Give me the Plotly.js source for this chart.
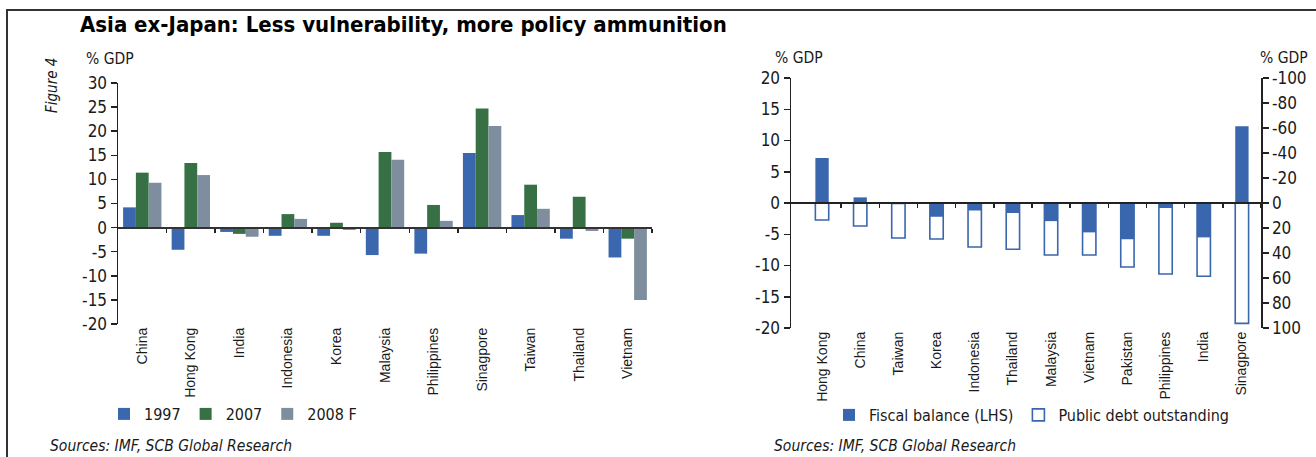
<!DOCTYPE html>
<html>
<head>
<meta charset="utf-8">
<script src="https://cdn.plot.ly/plotly-3.0.1.min.js"></script>
<style>html,body{margin:0;padding:0;background:#fff;}#chart{width:1316px;height:457px;}</style>
</head>
<body>
<div id="chart"></div>
<script>
// ---------- data: left chart (% GDP) ----------
const countriesL = ["China","Hong Kong","India","Indonesia","Korea","Malaysia","Philippines","Sinagpore","Taiwan","Thailand","Vietnam"];
const ca1997 = [4.2, -4.6, -0.9, -1.7, -1.7, -5.7, -5.4, 15.5, 2.6, -2.3, -6.2];
const ca2007 = [11.4, 13.4, -1.3, 2.8, 1.0, 15.7, 4.7, 24.7, 8.9, 6.4, -2.3];
const ca2008F = [9.3, 10.9, -1.9, 1.8, -0.5, 14.1, 1.4, 21.1, 3.9, -0.7, -15.0];
const seriesNamesL = ["1997", "2007", "2008 F"];

// ---------- data: right chart ----------
const countriesR = ["Hong Kong","China","Taiwan","Korea","Indonesia","Thailand","Malaysia","Vietnam","Pakistan","Philippines","India","Sinagpore"];
const fiscalBalance = [7.2, 0.9, -0.2, -2.2, -1.2, -1.6, -2.9, -4.7, -5.8, -0.8, -5.5, 12.3];
const publicDebt = [13.6, 18.4, 28.0, 28.8, 35.2, 37.0, 41.6, 41.6, 51.2, 56.8, 58.6, 96.3];
const seriesNamesR = ["Fiscal balance (LHS)", "Public debt outstanding"];

// tick values
const ticksL = [-20,-15,-10,-5,0,5,10,15,20,25,30];
const ticksR = [-20,-15,-10,-5,0,5,10,15,20];
const ticksR2 = [-100,-80,-60,-40,-20,0,20,40,60,80,100];

// ---------- layout helpers ----------
const W = 1316, H = 457;
const px = v => v / W;
const py = v => 1 - v / H;
const NARROW = '"Liberation Sans Narrow", "Arial Narrow", "DejaVu Sans Condensed", sans-serif';
const SANS = '"Liberation Sans", Arial, sans-serif';
const INK = '#1a1a1a';

const domLx = [px(118), px(652)];
const domLy = [py(324), py(83)];
const domRx = [px(791), px(1261)];
const domRy = [py(328), py(78)];
const rangeL = [-20, 30];
const rangeR = [-20, 20];
const zeroPos = (dom, r) => dom[0] + (0 - r[0]) / (r[1] - r[0]) * (dom[1] - dom[0]);

const colorsL = ['#3B67AE', '#377044', '#7F8E9E'];
const blue = '#3A66AD';

const traces = [];
[ca1997, ca2007, ca2008F].forEach((vals, i) => {
  traces.push({
    type: 'bar', x: countriesL, y: vals, name: seriesNamesL[i],
    marker: {color: colorsL[i], line: {width: 0}},
    xaxis: 'x', yaxis: 'y', legend: 'legend'
  });
});
traces.push({
  type: 'bar', x: countriesR, y: fiscalBalance, name: seriesNamesR[0],
  width: 0.35, marker: {color: blue, line: {width: 0}},
  xaxis: 'x2', yaxis: 'y2', legend: 'legend2'
});
traces.push({
  type: 'bar', x: countriesR, y: publicDebt, name: seriesNamesR[1],
  width: 0.35, marker: {color: 'rgba(255,255,255,0)', line: {color: blue, width: 1.6}},
  xaxis: 'x2', yaxis: 'y3', legend: 'legend2'
});
// invisible helpers so the zero-line axes get drawn
traces.push({type: 'scatter', mode: 'none', x: countriesL.map((_, i) => i), y: ca1997, xaxis: 'x3', yaxis: 'y', showlegend: false, hoverinfo: 'skip'});
traces.push({type: 'scatter', mode: 'none', x: countriesR.map((_, i) => i), y: fiscalBalance, xaxis: 'x4', yaxis: 'y2', showlegend: false, hoverinfo: 'skip'});

const tickFont = {family: NARROW, size: 17, color: INK};
const catFont = {family: SANS, size: 14, color: INK};
const smallFont = {family: NARROW, size: 15.5, color: INK};

const layout = {
  width: W, height: H,
  margin: {l: 0, r: 0, t: 0, b: 0},
  paper_bgcolor: '#fff', plot_bgcolor: 'rgba(0,0,0,0)',
  showlegend: true,
  barmode: 'group', bargap: 0.21, bargroupgap: 0,
  font: {family: NARROW, color: INK},
  title: {
    text: '<b>Asia ex-Japan: Less vulnerability, more policy ammunition</b>',
    font: {family: NARROW, size: 22, color: '#000'},
    x: px(80), xanchor: 'left', xref: 'paper',
    y: py(24), yanchor: 'middle', yref: 'paper'
  },
  xaxis: {
    domain: domLx, anchor: 'y', type: 'category', categoryarray: countriesL,
    range: [-0.5, countriesL.length - 0.5],
    showline: false, ticks: '', tickangle: -90, tickfont: catFont, showgrid: false, zeroline: false
  },
  xaxis3: {
    overlaying: 'x', anchor: 'free', position: zeroPos(domLy, rangeL), type: 'linear',
    range: [-0.5, countriesL.length - 0.5],
    tickvals: countriesL.map((_, i) => i + 0.5),
    showline: true, linecolor: '#333', linewidth: 2,
    ticks: 'outside', ticklen: 4, tickcolor: '#222', tickwidth: 1.5,
    showticklabels: false, showgrid: false, zeroline: false
  },
  yaxis: {
    domain: domLy, anchor: 'x', range: rangeL,
    tickvals: ticksL, ticktext: ticksL.map(String),
    showline: true, linecolor: '#222', linewidth: 1.5,
    ticks: 'outside', ticklen: 6, tickcolor: '#222', tickwidth: 1.5,
    tickfont: tickFont, showgrid: false, zeroline: false
  },
  xaxis2: {
    domain: domRx, anchor: 'y2', type: 'category', categoryarray: countriesR,
    range: [-0.5 - 12 / 38.3, countriesR.length - 0.5],
    showline: false, ticks: '', tickangle: -90, tickfont: catFont, showgrid: false, zeroline: false
  },
  xaxis4: {
    overlaying: 'x2', anchor: 'free', position: zeroPos(domRy, rangeR), type: 'linear',
    range: [-0.5 - 12 / 38.3, countriesR.length - 0.5],
    tickvals: countriesR.map((_, i) => i + 0.5),
    showline: true, linecolor: '#222', linewidth: 2,
    ticks: 'outside', ticklen: 4, tickcolor: '#222', tickwidth: 1.5,
    showticklabels: false, showgrid: false, zeroline: false
  },
  yaxis2: {
    domain: domRy, anchor: 'x2', range: rangeR,
    tickvals: ticksR, ticktext: ticksR.map(String),
    showline: true, linecolor: '#222', linewidth: 1.5,
    ticks: 'outside', ticklen: 6, tickcolor: '#222', tickwidth: 1.5,
    tickfont: tickFont, showgrid: false, zeroline: false
  },
  yaxis3: {
    overlaying: 'y2', side: 'right', anchor: 'x2', range: [100, -100],
    tickvals: ticksR2, ticktext: ticksR2.map(String),
    showline: true, linecolor: '#222', linewidth: 1.5,
    ticks: 'outside', ticklen: 6, tickcolor: '#222', tickwidth: 1.5,
    tickfont: tickFont, showgrid: false, zeroline: false
  },
  legend: {
    orientation: 'h', x: px(104), xanchor: 'left', y: py(414), yanchor: 'middle',
    font: {family: NARROW, size: 16, color: INK}, bgcolor: 'rgba(0,0,0,0)', traceorder: 'normal'
  },
  legend2: {
    orientation: 'h', x: px(829), xanchor: 'left', y: py(415), yanchor: 'middle',
    font: {family: NARROW, size: 16, color: INK}, bgcolor: 'rgba(0,0,0,0)', traceorder: 'normal'
  },
  annotations: [
    {text: '<i>Figure 4</i>', xref: 'paper', yref: 'paper', x: px(52), y: py(86), textangle: -90,
     showarrow: false, font: {family: NARROW, size: 15, color: INK}, xanchor: 'center', yanchor: 'middle'},
    {text: '% GDP', xref: 'paper', yref: 'paper', x: px(84), y: py(59), xanchor: 'left', yanchor: 'middle',
     showarrow: false, font: smallFont},
    {text: '% GDP', xref: 'paper', yref: 'paper', x: px(773), y: py(58), xanchor: 'left', yanchor: 'middle',
     showarrow: false, font: smallFont},
    {text: '% GDP', xref: 'paper', yref: 'paper', x: px(1258), y: py(58), xanchor: 'left', yanchor: 'middle',
     showarrow: false, font: smallFont},
    {text: '<i>Sources: IMF, SCB Global Research</i>', xref: 'paper', yref: 'paper', x: px(48), y: py(446),
     xanchor: 'left', yanchor: 'middle', showarrow: false, font: smallFont},
    {text: '<i>Sources: IMF, SCB Global Research</i>', xref: 'paper', yref: 'paper', x: px(772), y: py(446),
     xanchor: 'left', yanchor: 'middle', showarrow: false, font: smallFont}
  ],
  shapes: [
    {type: 'path', xref: 'paper', yref: 'paper',
     path: `M ${px(7)} 0 L ${px(7)} ${py(10)} L 1 ${py(10)}`,
     line: {color: '#333', width: 2}}
  ]
};

Plotly.newPlot('chart', traces, layout, {staticPlot: true, displayModeBar: false});
</script>
</body>
</html>
